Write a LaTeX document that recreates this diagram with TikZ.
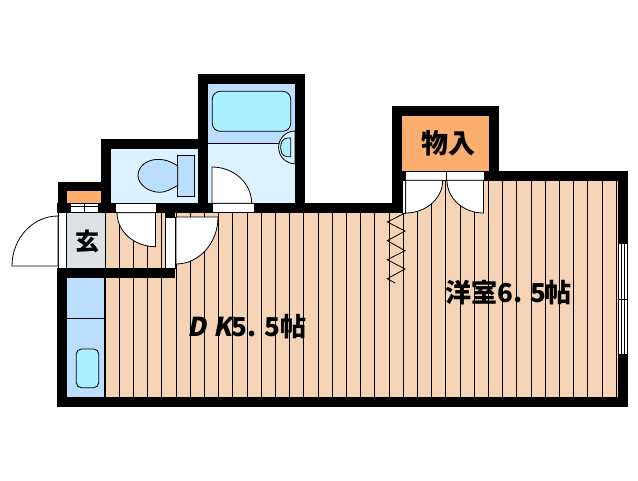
\documentclass[tikz,border=0pt]{standalone}
\usepackage{fontspec}
\newfontfamily\jpfont{Noto Sans CJK JP}
\newfontfamily\jpslant[FakeSlant=0.2]{Noto Sans CJK JP}
\definecolor{floorpeach}{HTML}{F5D3B5}
\definecolor{closetorange}{HTML}{FBAE6E}
\definecolor{hallgray}{HTML}{DDE1E4}
\definecolor{wetblue}{HTML}{BBDDFF}
\definecolor{paleblue}{HTML}{DDF2FF}
\definecolor{tubcyan}{HTML}{AAF0FF}
\tikzset{
	wall/.style={fill=black},
	fitting/.style={draw=black,line width=.8pt},
	leaf/.style={draw=black,fill=white,line width=.8pt},
	floorline/.style={black,line width=.8pt},
	roomlabel/.style={inner sep=0pt,font=\jpfont\bfseries}
}
\begin{document}
\begin{tikzpicture}[x=1pt,y=-1pt]
	\useasboundingbox[fill=white] (0,0) rectangle (638,480);
	\fill[floorpeach] (105,212) rectangle (402,397);
	\fill[floorpeach] (402,180) rectangle (618,397);
	\fill[hallgray] (67,212) rectangle (105,268);
	\fill[closetorange] (67,191) rectangle (101,203);
	\fill[closetorange] (402,115) rectangle (489,171);
	\fill[paleblue] (110,148) rectangle (198,203);
	\fill[paleblue] (208,143) rectangle (295,203);
	\fill[wetblue] (208,84) rectangle (295,143);
	\fill[wetblue] (67,277) rectangle (105,397);
	\foreach \n in {0,...,36}{
		\draw[floorline] ({105+14.2*\n},212) -- ({105+14.2*\n},397);
	}
	\foreach \n in {21,...,36}{
		\draw[floorline] ({105+14.2*\n},180) -- ({105+14.2*\n},212);
	}
	\fill[hallgray] (67,212) rectangle (104.6,268);
	\draw[fitting,fill=tubcyan,rounded corners=8pt] (212.3,91.3) rectangle (290.7,131.3);
	\draw[fitting,fill=paleblue] (295,131) arc[start angle=-90,end angle=-270,radius=16.4] -- cycle;
	\draw[fitting] (208,143) -- (279,143);
	\draw[fitting,fill=tubcyan] (290.7,138) -- (287,138) .. controls (282,139) and (280.7,143) .. (280.7,147.4) .. controls (280.7,152) and (282,156) .. (287,156.7) -- (290.7,156.7) -- cycle;
	\draw[fitting,fill=wetblue] (177.7,155.3) rectangle (194.3,196.3);
	\draw[fitting,fill=wetblue] (177.7,166) .. controls (170,161) and (165,159.4) .. (158,159.4) .. controls (146,159.4) and (138,167) .. (138,175.5) .. controls (138,184) and (148,192.3) .. (160,192.3) .. controls (166,192.3) and (171,189) .. (177.7,185.5) -- cycle;
	\draw[line width=1.3pt] (104.4,277) -- (104.4,397);
	\draw[fitting] (67,318.3) -- (104,318.3);
	\draw[fitting,fill=tubcyan,rounded corners=5pt] (76.3,349) rectangle (98.7,387.7);
	\fill[wall] (57,268) rectangle (175,277.7);
	\fill[wall] (57,268) rectangle (67,407);
	\fill[wall] (57,397) rectangle (628,407);
	\fill[wall] (618,171) rectangle (628,407);
	\fill[wall] (484,171) rectangle (628,180.5);
	\fill[wall] (392,106) rectangle (499,115.7);
	\fill[wall] (392,106) rectangle (402,212.7);
	\fill[wall] (489,106) rectangle (499,180.5);
	\fill[wall] (402,171) rectangle (406,180.5);
	\fill[wall] (254,203.3) rectangle (402,212.7);
	\fill[wall] (198,74) rectangle (304.7,84);
	\fill[wall] (198,74) rectangle (208,212.7);
	\fill[wall] (295,74) rectangle (304.7,212.7);
	\fill[wall] (208,203.3) rectangle (212,212.7);
	\fill[wall] (101,139) rectangle (208,148.7);
	\fill[wall] (101,139) rectangle (110.7,212.7);
	\fill[wall] (156,203) rectangle (212,212.7);
	\fill[wall] (98,203) rectangle (115,212.7);
	\fill[wall] (58,182) rectangle (110,191);
	\fill[wall] (58,182) rectangle (67,203);
	\fill[wall] (57,203) rectangle (70,212.7);
	\fill[wall] (165,212) rectangle (175,217);
	\draw[leaf] (212,203.3) rectangle (254,212.7);
	\draw[leaf] (115,203) rectangle (156,212.7);
	\draw[leaf] (70,203) rectangle (98,212.7);
	\draw[fitting] (70,206) -- (98,206);
	\draw[fitting] (84,203) -- (84,212);
	\draw[leaf] (58,212.7) rectangle (66.7,268);
	\draw[leaf] (165.6,217) rectangle (175,268);
	\draw[leaf] (405.7,171) rectangle (484,180.3);
	\draw[fitting] (446,171) -- (446,180);
	\draw[leaf] (402.6,180.3) rectangle (405.7,213);
	\draw[leaf] (155.5,212.7) -- (155.5,246.7) arc[start angle=90,end angle=180,x radius=38.5,y radius=34] -- cycle;
	\draw[leaf] (58,266) -- (58,216) arc[start angle=270,end angle=180,x radius=46,y radius=50] -- cycle;
	\draw[leaf] (176,217) -- (218,217) arc[start angle=0,end angle=90,x radius=42,y radius=47] -- cycle;
	\draw[leaf] (212,203.3) -- (212,167) arc[start angle=270,end angle=360,x radius=39.7,y radius=36.3] -- cycle;
	\draw[leaf] (405.7,180.3) -- (442.7,180.3) arc[start angle=0,end angle=90,x radius=37,y radius=32.7] -- cycle;
	\draw[leaf] (483.5,180.3) -- (447,180.3) arc[start angle=180,end angle=90,x radius=36.5,y radius=32.7] -- cycle;
	\draw[fitting] (405,213) -- (387.3,222) -- (405,231) -- (387.3,240.7) -- (405,250.7) -- (387.3,259.7) -- (405,269) -- (387.3,278.7) -- (395,283);
	\fill[white] (618,244) rectangle (628,354);
	\foreach \xw in {618.7,621,624,627.6}{
		\draw[black,line width=.5pt] (\xw,244) -- (\xw,354);
	}
	\draw[black,line width=.7pt] (618,299.3) -- (628,299.3);
	\draw[black,line width=.7pt] (618,354) -- (628,354);
	\node[roomlabel,font=\jpfont\bfseries\fontsize{24}{24}\selectfont] (genkan) at (87,241) {玄};
	\node[roomlabel,font=\jpfont\bfseries\fontsize{27}{27}\selectfont] (closet) at (448,143) {物入};
	\node[roomlabel,font=\jpfont\bfseries\fontsize{26}{26}\selectfont,anchor=west] (diningkitchen) at (187,327) {{\jpslant D\hspace{7pt}K}5.\hspace{8pt}5帖};
	\node[roomlabel,font=\jpfont\bfseries\fontsize{26}{26}\selectfont,anchor=west] (westernroom) at (445,293) {洋室6.\hspace{8pt}5帖};
\end{tikzpicture}
\end{document}
